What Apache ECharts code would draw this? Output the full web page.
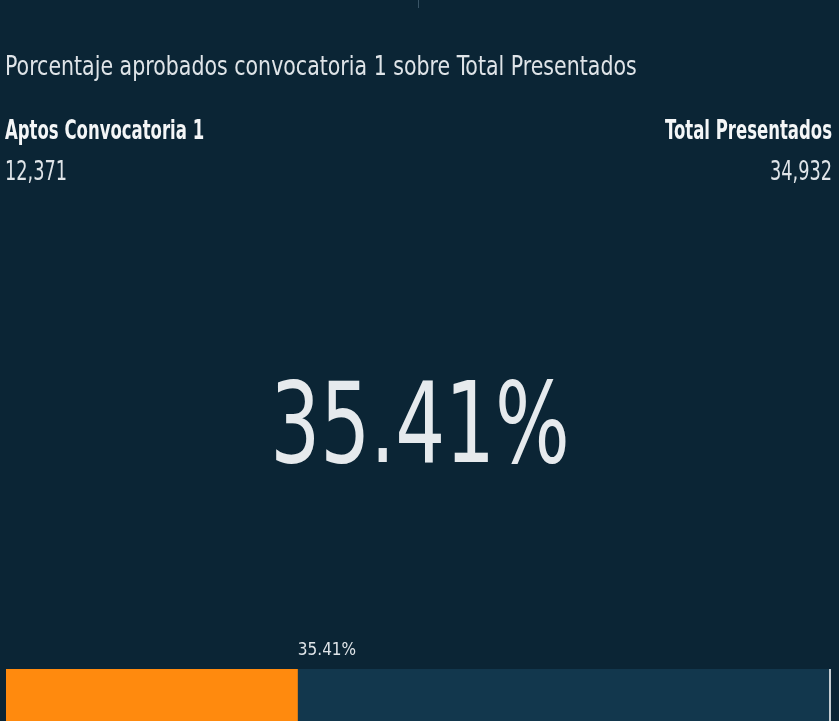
<!DOCTYPE html>
<html>
<head>
<meta charset="utf-8">
<script src="https://cdn.jsdelivr.net/npm/echarts@6/dist/echarts.min.js"></script>
<style>
  html, body { margin: 0; padding: 0; background: #0b2535; }
  #main { width: 839px; height: 721px; }
</style>
</head>
<body>
<div id="main"></div>
<script>
// datos del KPI
const chartTitle = 'Porcentaje aprobados convocatoria 1 sobre Total Presentados'
const kpiLabels = ['Aptos Convocatoria 1', 'Total Presentados']
const kpiValues = [12371, 34932]
const barCategories = ['Aptos']

const font = "'DejaVu Sans Condensed', sans-serif"
const pctText = (kpiValues[0] / kpiValues[1] * 100).toFixed(2) + '%'
const fmt = v => v.toLocaleString('en-US')

// texto "condensado" con escala horizontal
const txt = (text, x, y, size, sx, opts = {}) => ({
  type: 'text',
  x, y,
  scaleX: sx,
  silent: true,
  style: {
    text,
    x: 0, y: 0,
    fill: opts.color || '#dfe4e8',
    font: (opts.bold ? 'bold ' : '') + size + 'px ' + font,
    align: opts.align || 'left',
    verticalAlign: 'middle'
  }
})

let myChart = echarts.init(document.getElementById('main'))

const option = {
  backgroundColor: '#0b2535',
  graphic: [
    { type: 'line', shape: { x1: 418.5, y1: 0, x2: 418.5, y2: 8 },
      style: { stroke: '#3a5566', lineWidth: 1 } },
    txt(chartTitle, 5, 68, 27, 0.846),
    txt(kpiLabels[0], 5, 132, 27, 0.68, { bold: true, color: '#f4f6f7' }),
    txt(fmt(kpiValues[0]), 5, 173, 27, 0.73),
    txt(kpiLabels[1], 832, 132, 27, 0.68, { bold: true, color: '#f4f6f7', align: 'right' }),
    txt(fmt(kpiValues[1]), 832, 173, 27, 0.73, { align: 'right' }),
    txt(pctText, 420, 433, 112, 0.78, { color: '#e6eaed', align: 'center' })
  ],
  grid: { left: 6, right: 9, top: 669, height: 60 },
  xAxis: { type: 'value', min: 0, max: kpiValues[1], show: false },
  yAxis: { type: 'category', data: barCategories, show: false },
  series: [{
    type: 'bar',
    data: [kpiValues[0]],
    barWidth: '100%',
    itemStyle: { color: '#ff8a0e' },
    showBackground: true,
    backgroundStyle: { color: '#12374d' },
    label: {
      show: true,
      position: ['100%', -27],
      formatter: () => pctText,
      color: '#dfe4e8',
      fontFamily: font,
      fontSize: 17
    },
    markLine: {
      silent: true,
      symbol: 'none',
      label: { show: false },
      lineStyle: { color: '#c5ccd1', width: 2, type: 'solid' },
      data: [{ xAxis: kpiValues[1] }]
    }
  }],
  animation: false
}

myChart.setOption(option)
window.onresize = () => {
  myChart.resize()
}
</script>
</body>
</html>
